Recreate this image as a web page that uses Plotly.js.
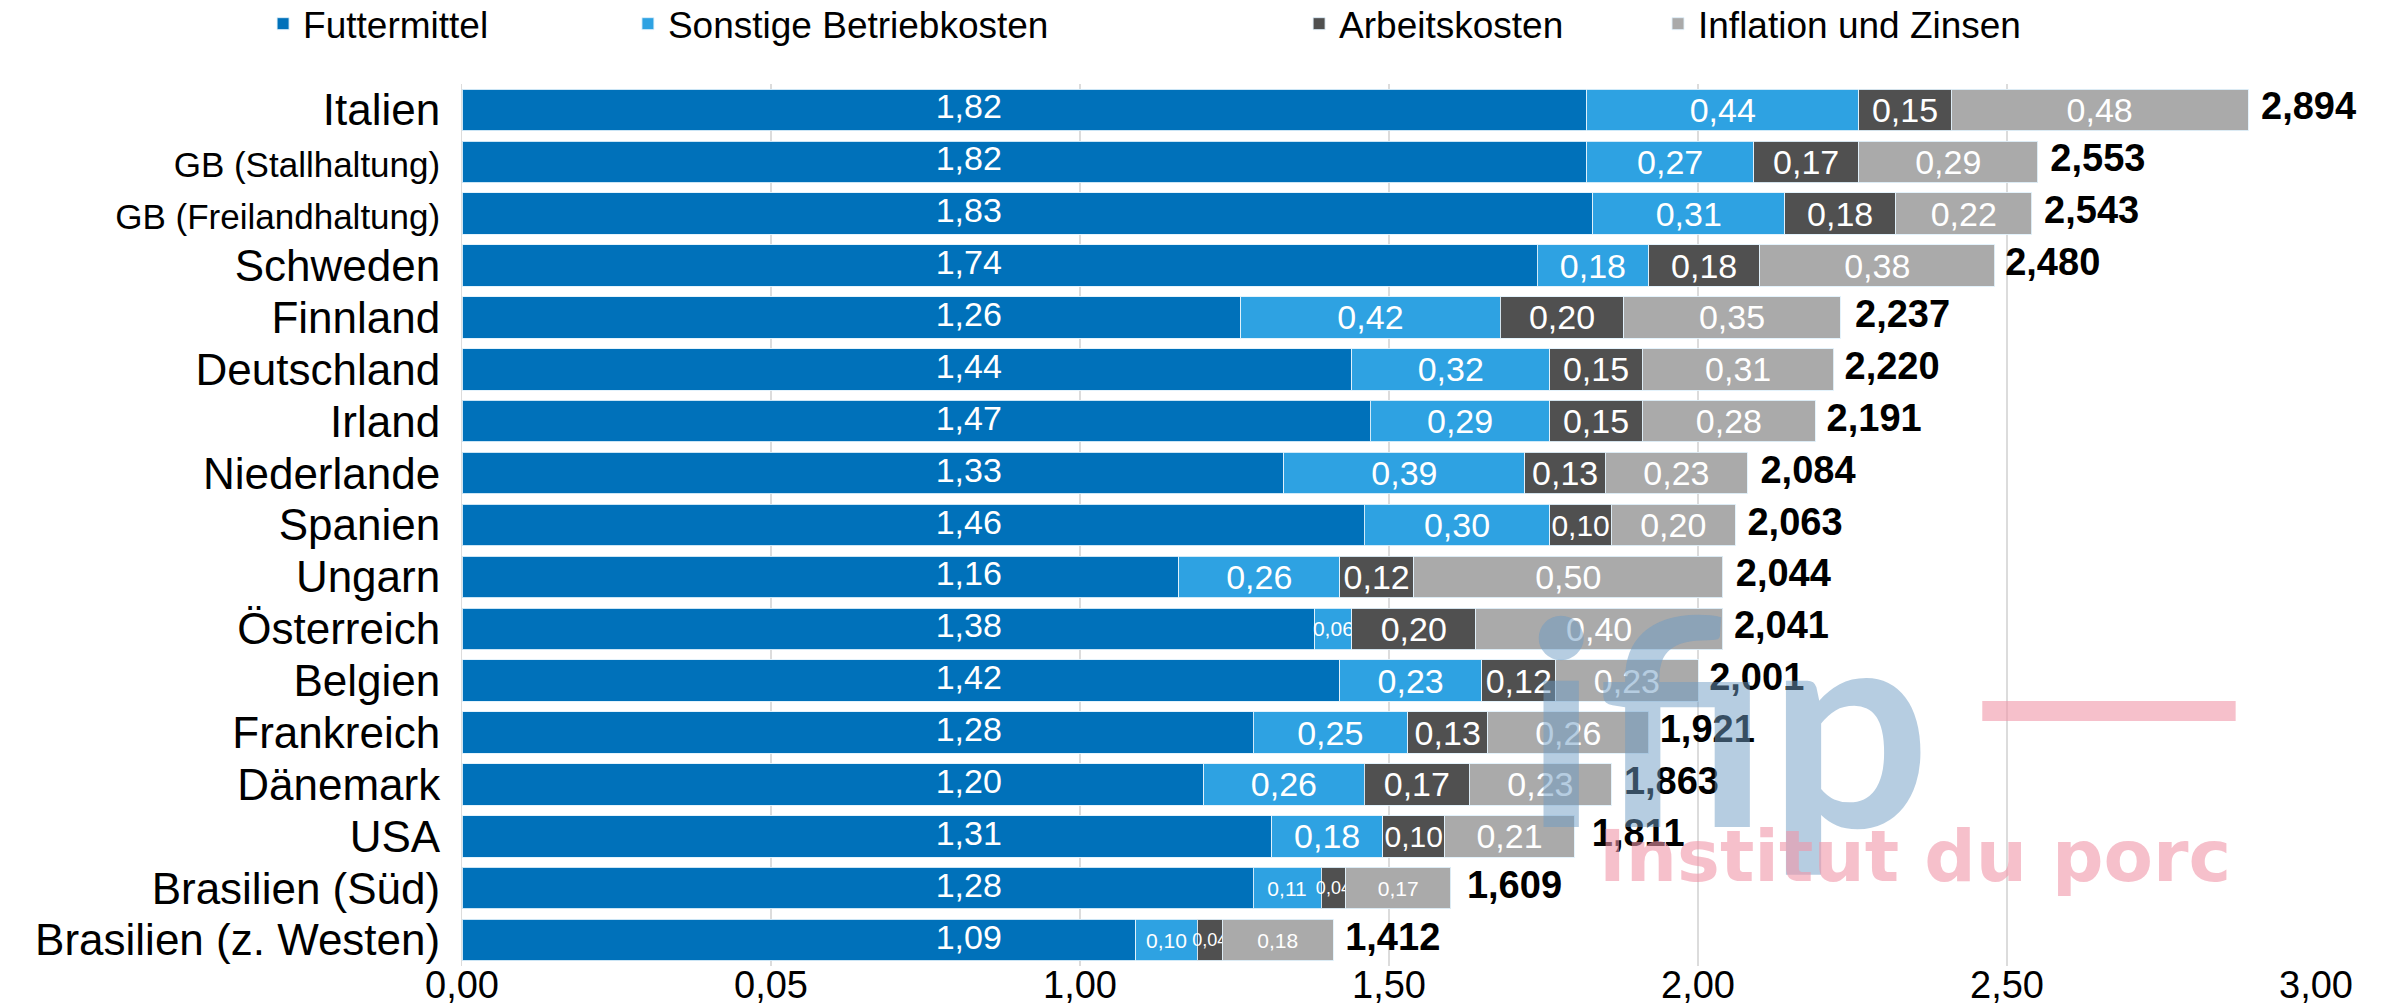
<!DOCTYPE html>
<html>
<head>
<meta charset="utf-8">
<script src="https://cdn.plot.ly/plotly-3.0.1.min.js"></script>
<style>html,body{margin:0;padding:0;background:#fff;}#chart{width:2392px;height:1005px;}</style>
</head>
<body>
<div id="chart"></div>
<script>
// ---- data ----
const countries = ["Italien","GB (Stallhaltung)","GB (Freilandhaltung)","Schweden","Finnland","Deutschland","Irland","Niederlande","Spanien","Ungarn","Österreich","Belgien","Frankreich","Dänemark","USA","Brasilien (Süd)","Brasilien (z. Westen)"];
const futtermittel = [1.82,1.82,1.83,1.74,1.26,1.44,1.47,1.33,1.46,1.16,1.38,1.42,1.28,1.20,1.31,1.28,1.09];
const sonstige     = [0.44,0.27,0.31,0.18,0.42,0.32,0.29,0.39,0.30,0.26,0.06,0.23,0.25,0.26,0.18,0.11,0.10];
const arbeit       = [0.15,0.17,0.18,0.18,0.20,0.15,0.15,0.13,0.10,0.12,0.20,0.12,0.13,0.17,0.10,0.04,0.04];
const inflation    = [0.48,0.29,0.22,0.38,0.35,0.31,0.28,0.23,0.20,0.50,0.40,0.23,0.26,0.23,0.21,0.17,0.18];
const totals       = [2.894,2.553,2.543,2.480,2.237,2.220,2.191,2.084,2.063,2.044,2.041,2.001,1.921,1.863,1.811,1.609,1.412];
const seriesNames  = ["Futtermittel","Sonstige Betriebkosten","Arbeitskosten","Inflation und Zinsen"];
const xTickVals    = [0,0.5,1,1.5,2,2.5,3];
const xTickText    = ["0,00","0,05","1,00","1,50","2,00","2,50","3,00"];

// ---- style ----
const FONT = "Liberation Sans, Arial, sans-serif";
const colors = ["#0071BA","#2EA2E2","#505050","#AAAAAA"];
const FEED_LABEL_X = 0.82;
const legendNames = ["legend","legend2","legend3","legend4"];
const legendX = [-0.1073, 0.0895, 0.4515, 0.6451];
const catLabels = countries.map(c => c.startsWith("GB") ? '<span style="font-size:35px">'+c+'</span>' : c);
// label size depends on how much room a segment has (as in the reference)
function segFont(vals){
  return vals.map((v,k) => v < 0.05 ? 18 : (v < 0.08 || totals[k] < 1.7) ? 21 : v <= 0.10 ? 30 : 34);
}

function barTrace(vals, i){
  return {
    type:"bar", orientation:"h", name:seriesNames[i], y:countries, x:vals,
    marker:{color:colors[i], line:{color:"rgba(225,242,252,0.9)", width:1}}, legend:legendNames[i],
    texttemplate: i===0 ? "" : "%{x:.2f}", textposition:"inside", insidetextanchor:"middle", constraintext:"none", textangle:0,
    textfont:{family:FONT,size:segFont(vals),color:"#ffffff"}, hoverinfo:"x+y"
  };
}
const traces = [
  barTrace(futtermittel,0),
  barTrace(sonstige,1),
  barTrace(arbeit,2),
  barTrace(inflation,3),
  {type:"scatter", mode:"text", y:countries, x:countries.map(()=>FEED_LABEL_X), text:futtermittel.map(v=>v.toFixed(2).replace(".",",")),
   textposition:"middle center", textfont:{family:FONT,size:34,color:"#ffffff"}, showlegend:false, hoverinfo:"skip", cliponaxis:false},
  {type:"scatter", mode:"text", y:countries, x:totals, texttemplate:"\u00a0%{x:.3f}",
   textposition:"middle right", textfont:{family:FONT,size:38,color:"#000000",weight:"bold"}, showlegend:false, hoverinfo:"skip", cliponaxis:false}
];

const L = 462, R = 2316, T = 84, B = 966;
const legends = {};
legendNames.forEach((n,i)=>{
  legends[n] = {orientation:"h", x:legendX[i], xanchor:"left", yref:"container", y:0.976, yanchor:"middle",
                font:{family:FONT,size:37,color:"#000"}, bgcolor:"rgba(0,0,0,0)"};
});
const layout = Object.assign({
  width:2392, height:1005, paper_bgcolor:"#ffffff", plot_bgcolor:"#ffffff",
  separators:",.", barmode:"stack", bargap:0.2,
  margin:{l:L, r:2392-R, t:T, b:1005-B, pad:0, autoexpand:false},
  font:{family:FONT, color:"#000000"},
  xaxis:{range:[0,3], tickvals:xTickVals, ticktext:xTickText, showgrid:true, gridcolor:"#DCDCDC", gridwidth:2,
         anchor:"free", position:0.008,
         zeroline:false, showline:false, ticks:"", tickfont:{family:FONT,size:38,color:"#000"}, automargin:false, fixedrange:true},
  yaxis:{categoryorder:"array", categoryarray:countries, autorange:false, range:[countries.length-0.5,-0.5],
         tickvals:countries, ticktext:catLabels,
         tickfont:{family:FONT,size:44,color:"#000"}, ticks:"", ticklabelstandoff:12, showgrid:false, zeroline:false,
         showline:true, linecolor:"#DCDCDC", automargin:false, fixedrange:true},
  shapes:[
    {type:"line", xref:"x", yref:"paper", x0:2.46, x1:2.87, y0:0.289, y1:0.289, line:{color:"rgba(240,150,168,0.6)", width:20}, layer:"above"}
  ],
  annotations:[
    {text:"ifip", xref:"x", yref:"paper", x:2.047, y:0.086, showarrow:false, font:{family:"Lato, sans-serif", size:285, color:"rgba(110,155,195,0.5)", weight:"bold"}},
    {text:"Institut du porc", xref:"x", yref:"paper", x:2.351, y:0.075, showarrow:false, font:{family:"DejaVu Sans, sans-serif", size:72, color:"rgba(240,150,168,0.6)", weight:"bold"}}
  ]
}, legends);
Plotly.newPlot("chart", traces, layout, {staticPlot:true, displayModeBar:false});
</script>
</body>
</html>
